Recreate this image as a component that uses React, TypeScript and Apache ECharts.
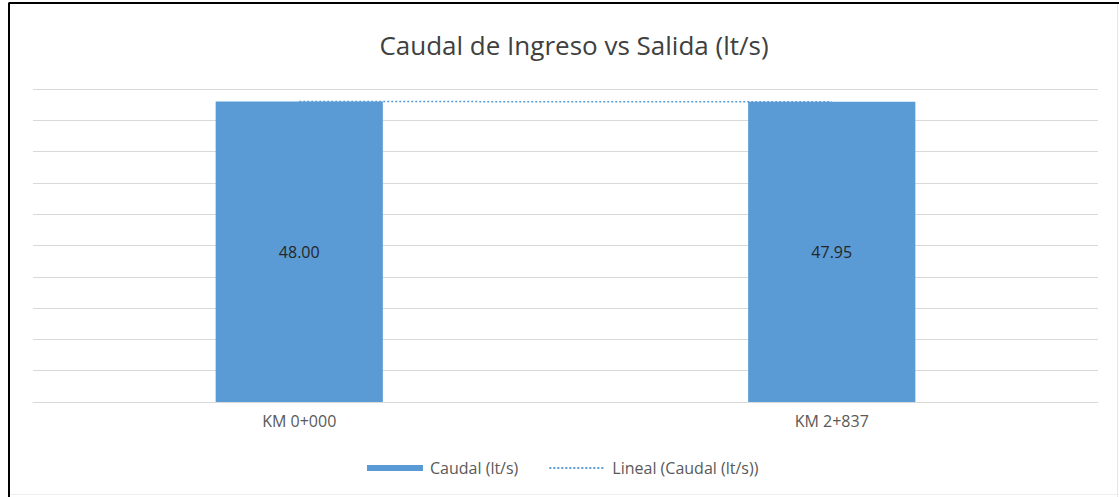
import React, { useEffect, useRef } from "react";
import * as echarts from "echarts";

const categories = ["KM 0+000", "KM 2+837"];
const caudal = [48.0, 47.95];
const titleText = "Caudal de Ingreso vs Salida (lt/s)";
const seriesName = "Caudal (lt/s)";
const trendName = "Lineal (Caudal (lt/s))";

export default function App() {
  const ref = useRef<HTMLDivElement>(null);
  useEffect(() => {
    document.body.style.margin = "0";
    const chart = echarts.init(ref.current!, null, { renderer: "svg" });
    chart.setOption({
      animation: false,
      backgroundColor: "#ffffff",
      title: {
        text: titleText,
        left: 569,
        textAlign: "center",
        top: 27,
        textStyle: {
          fontFamily: "Open Sans",
          fontSize: 26,
          fontWeight: "normal",
          color: "#404040",
        },
      },
      legend: {
        top: 455,
        left: 362,
        itemGap: 30,
        textStyle: { fontFamily: "Open Sans", fontSize: 16, color: "#595959", padding: [0, 0, 0, 2] },
        data: [
          { name: seriesName, icon: "rect", itemStyle: { color: "#5B9BD5" } },
          { name: trendName, itemStyle: { opacity: 0 } },
        ],
        itemWidth: 56,
        itemHeight: 6,
      },
      grid: { left: 33, right: 21, top: 89, bottom: 95, containLabel: false },
      xAxis: {
        type: "category",
        data: categories,
        axisLine: { lineStyle: { color: "#d9d9d9", width: 1 } },
        axisTick: { show: false },
        axisLabel: { fontFamily: "Open Sans", fontSize: 16, color: "#595959", margin: 11 },
      },
      yAxis: {
        type: "value",
        min: 0,
        max: 50,
        interval: 5,
        axisLabel: { show: false },
        axisLine: { show: false },
        axisTick: { show: false },
        splitLine: { lineStyle: { color: "#d9d9d9", width: 1 } },
      },
      series: [
        {
          name: trendName,
          type: "line",
          data: caudal,
          symbol: "none",
          z: 1,
          lineStyle: { color: "#5B9BD5", width: 1.5, type: [2, 2] },
          itemStyle: { color: "#5B9BD5" },
        },
        {
          name: seriesName,
          type: "bar",
          data: caudal,
          barWidth: "31.4%",
          z: 2,
          itemStyle: { color: "#5B9BD5" },
          label: {
            show: true,
            position: "inside",
            formatter: (p: any) => Number(p.value).toFixed(2),
            fontFamily: "Open Sans",
            fontSize: 16,
            color: "#262626",
          },
        },
      ],
      graphic: [
        { type: "line", shape: { x1: 8.5, y1: 3, x2: 1119, y2: 3 }, style: { stroke: "#000", lineWidth: 2 } },
        { type: "line", shape: { x1: 9, y1: 3, x2: 9, y2: 497 }, style: { stroke: "#000", lineWidth: 2 } },
        { type: "line", shape: { x1: 1117.5, y1: 4, x2: 1117.5, y2: 497 }, style: { stroke: "#e6e6e6", lineWidth: 1 } },
        { type: "line", shape: { x1: 10, y1: 494.5, x2: 1119, y2: 494.5 }, style: { stroke: "#eeeeee", lineWidth: 1 } },
      ],
    });
    return () => chart.dispose();
  }, []);
  return <div ref={ref} style={{ width: 1119, height: 497 }} />;
}
